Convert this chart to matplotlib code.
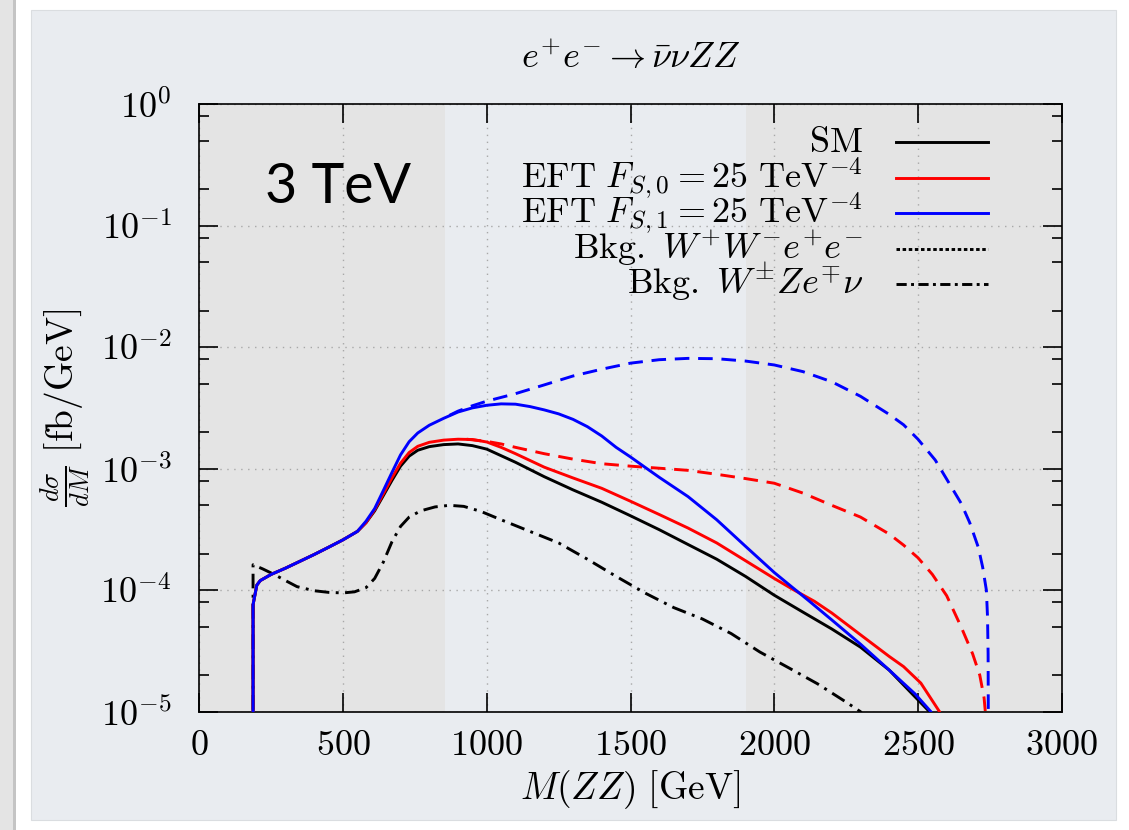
import numpy as np
import matplotlib
matplotlib.use("Agg")
import matplotlib.pyplot as plt
from matplotlib.lines import Line2D
from matplotlib.patches import Rectangle
from matplotlib.ticker import LogLocator, FixedLocator, FuncFormatter

plt.rcParams['mathtext.fontset'] = 'cm'
plt.rcParams['font.family'] = ['DejaVu Serif']

# M(ZZ) [GeV] / dsigma/dM [fb/GeV]
# common rising part below 600 GeV
low_x = [187, 187, 200, 212, 250, 300, 350, 400, 450, 500, 550]
low_y = [1e-6, 7.6e-5, 1.1e-4, 1.2e-4, 1.35e-4, 1.52e-4, 1.73e-4, 1.97e-4, 2.26e-4, 2.6e-4, 3.05e-4]

sm_x = low_x + [580, 610, 640, 670, 700, 730, 760, 800, 850, 900, 950, 1000, 1100, 1200, 1300,
                1400, 1500, 1600, 1700, 1800, 1900, 2000, 2100, 2200, 2300, 2400, 2480, 2540, 2555]
sm_y = low_y + [3.6e-4, 4.5e-4, 6.0e-4, 8.0e-4, 1.05e-3, 1.27e-3, 1.42e-3, 1.52e-3, 1.58e-3,
                1.6e-3, 1.55e-3, 1.45e-3, 1.13e-3, 8.6e-4, 6.7e-4, 5.3e-4, 4.1e-4, 3.15e-4,
                2.38e-4, 1.8e-4, 1.3e-4, 9.1e-5, 6.6e-5, 4.8e-5, 3.4e-5, 2.2e-5, 1.4e-5, 1e-5, 8e-6]

fs0_x = low_x + [580, 610, 640, 670, 700, 730, 760, 800, 850, 900, 950, 1000, 1050, 1100, 1200,
                 1300, 1400, 1500, 1600, 1700, 1800, 1900, 2000, 2070, 2140, 2200, 2300, 2400,
                 2450, 2510, 2575, 2590]
fs0_y = low_y + [3.6e-4, 4.6e-4, 6.2e-4, 8.4e-4, 1.11e-3, 1.36e-3, 1.53e-3, 1.65e-3, 1.72e-3,
                 1.75e-3, 1.74e-3, 1.66e-3, 1.5e-3, 1.33e-3, 1.03e-3, 8.4e-4, 6.9e-4, 5.4e-4,
                 4.2e-4, 3.25e-4, 2.45e-4, 1.75e-4, 1.25e-4, 1.0e-4, 8.1e-5, 6.5e-5, 4.3e-5,
                 2.85e-5, 2.35e-5, 1.72e-5, 1e-5, 8e-6]

fs1_x = low_x + [580, 610, 640, 670, 700, 730, 760, 800, 850, 900, 950, 1000, 1050, 1100, 1150,
                 1200, 1250, 1300, 1350, 1400, 1450, 1500, 1550, 1600, 1700, 1800, 1900, 2000,
                 2060, 2120, 2200, 2300, 2400, 2490, 2545, 2555]
fs1_y = low_y + [3.7e-4, 4.7e-4, 6.6e-4, 9.3e-4, 1.3e-3, 1.67e-3, 1.97e-3, 2.28e-3, 2.6e-3,
                 2.93e-3, 3.17e-3, 3.33e-3, 3.42e-3, 3.4e-3, 3.25e-3, 3.05e-3, 2.83e-3, 2.55e-3,
                 2.22e-3, 1.86e-3, 1.5e-3, 1.25e-3, 1.03e-3, 8.5e-4, 5.9e-4, 3.8e-4, 2.3e-4,
                 1.4e-4, 1.07e-4, 8.2e-5, 5.7e-5, 3.6e-5, 2.2e-5, 1.4e-5, 1e-5, 8e-6]

# EFT without unitarisation (dashed)
fs0_nu_x = [930, 1000, 1050, 1100, 1200, 1300, 1400, 1500, 1600, 1700, 1800, 1900, 2000, 2100,
            2200, 2300, 2400, 2450, 2500, 2550, 2600, 2650, 2690, 2715, 2730, 2738]
fs0_nu_y = [1.75e-3, 1.68e-3, 1.6e-3, 1.5e-3, 1.33e-3, 1.2e-3, 1.1e-3, 1.05e-3, 1.01e-3,
            9.7e-4, 9.0e-4, 8.3e-4, 7.6e-4, 6.3e-4, 5.0e-4, 4.0e-4, 2.9e-4, 2.35e-4, 1.85e-4,
            1.35e-4, 9.0e-5, 5.0e-5, 3.0e-5, 2.0e-5, 1.3e-5, 8e-6]

fs1_nu_x = [870, 900, 950, 1000, 1100, 1200, 1300, 1400, 1500, 1600, 1700, 1800, 1900, 2000,
            2100, 2200, 2300, 2400, 2450, 2500, 2560, 2600, 2650, 2680, 2710, 2725, 2738,
            2742, 2744, 2745]
fs1_nu_y = [2.75e-3, 2.98e-3, 3.3e-3, 3.6e-3, 4.15e-3, 4.9e-3, 5.8e-3, 6.6e-3, 7.4e-3, 7.9e-3,
            8.1e-3, 8.05e-3, 7.7e-3, 7.15e-3, 6.3e-3, 5.2e-3, 3.95e-3, 2.8e-3, 2.3e-3, 1.75e-3,
            1.18e-3, 8.2e-4, 5.2e-4, 3.6e-4, 2.25e-4, 1.55e-4, 1.0e-4, 6e-5, 3e-5, 5e-6]

wz_x = [187, 187, 220, 260, 300, 340, 400, 450, 500, 540, 580, 610, 640, 670, 700, 730, 770,
        820, 870, 920, 980, 1050, 1150, 1250, 1350, 1450, 1550, 1650, 1750, 1850, 1950, 2050,
        2150, 2250, 2300, 2315]
wz_y = [1e-6, 1.62e-4, 1.5e-4, 1.35e-4, 1.2e-4, 1.07e-4, 9.9e-5, 9.6e-5, 9.5e-5, 9.7e-5,
        1.05e-4, 1.25e-4, 1.7e-4, 2.5e-4, 3.35e-4, 4.0e-4, 4.5e-4, 4.85e-4, 5.0e-4, 4.9e-4,
        4.45e-4, 3.8e-4, 3.05e-4, 2.45e-4, 1.8e-4, 1.3e-4, 9.5e-5, 7.2e-5, 5.8e-5, 4.4e-5,
        3.1e-5, 2.3e-5, 1.7e-5, 1.2e-5, 1e-5, 9e-6]

labels = [r'$\mathrm{SM}$',
          r'$\mathrm{EFT}\ F_{S,0}=25\ \mathrm{TeV}^{-4}$',
          r'$\mathrm{EFT}\ F_{S,1}=25\ \mathrm{TeV}^{-4}$',
          r'$\mathrm{Bkg.}\ W^{+}W^{-}e^{+}e^{-}$',
          r'$\mathrm{Bkg.}\ W^{\pm}Ze^{\mp}\nu$']

x_ticks = [0, 500, 1000, 1500, 2000, 2500, 3000]

fig = plt.figure(figsize=(11.29, 8.30), dpi=100, facecolor='white')

# slide background
fig.add_artist(Rectangle((0, 0), 13 / 1129, 1, transform=fig.transFigure,
                         facecolor='#e4e4e4', edgecolor='none', zorder=-10))
fig.add_artist(Rectangle((13 / 1129, 0), 2.5 / 1129, 1, transform=fig.transFigure,
                         facecolor='#c4c4c4', edgecolor='none', zorder=-10))
fig.add_artist(Rectangle((31 / 1129, 10 / 830), (1116 - 31) / 1129, 810 / 830,
                         transform=fig.transFigure, facecolor='#e9ecf0',
                         edgecolor='#dadde0', lw=0.8, zorder=-10))

ax = fig.add_axes([199.3 / 1129, 1 - 711.7 / 830, (1061.7 - 199.3) / 1129, (711.7 - 104.3) / 830])
ax.set_facecolor('#e9ecf0')
ax.axvspan(0, 856, color='#e4e4e4', lw=0, zorder=0)
ax.axvspan(1901, 3000, color='#e4e4e4', lw=0, zorder=0)

lw = 2.1
ax.plot(fs1_nu_x, fs1_nu_y, color='blue', lw=lw, dashes=(5, 3), zorder=3)
ax.plot(fs0_nu_x, fs0_nu_y, color='red', lw=lw, dashes=(5, 3), zorder=3)
ax.plot(wz_x, wz_y, color='black', lw=lw, dashes=(5, 2.2, 1, 2.2), zorder=3)
ax.plot(sm_x, sm_y, color='black', lw=lw, zorder=4)
ax.plot(fs0_x, fs0_y, color='red', lw=lw, zorder=4)
ax.plot(fs1_x, fs1_y, color='blue', lw=lw, zorder=5)

ax.set_yscale('log')
ax.set_xlim(0, 3000)
ax.set_ylim(1e-5, 1)
ax.xaxis.set_major_locator(FixedLocator(x_ticks))
ax.xaxis.set_major_formatter(FuncFormatter(lambda v, p: r'$%d$' % v))
ax.yaxis.set_major_locator(LogLocator(base=10, numticks=10))
ax.yaxis.set_major_formatter(FuncFormatter(lambda v, p: r'$10^{%d}$' % round(np.log10(v))))
ax.yaxis.set_minor_locator(LogLocator(base=10, subs=[2, 5, 8], numticks=10))
ax.yaxis.set_minor_formatter(plt.NullFormatter())

ax.grid(True, which='major', color='#a8a8a8', ls=(0, (1, 4)), lw=1.0)
ax.tick_params(which='both', direction='in', top=True, right=True, width=1.2)
ax.tick_params(which='major', length=14, labelsize=26, pad=12)
ax.tick_params(axis='y', which='major', pad=20)
ax.tick_params(which='minor', length=7)
for s in ax.spines.values():
    s.set_linewidth(1.2)

ax.set_xlabel(r'$M(ZZ)\ [\mathrm{GeV}]$', fontsize=27, labelpad=4)
ax.set_ylabel(r'$\frac{d\sigma}{dM}\ [\mathrm{fb/GeV}]$', fontsize=27, labelpad=6)
ax.set_title(r'$e^{+}e^{-}\rightarrow\bar{\nu}\nu ZZ$', fontsize=26, pad=26)

ax.text(0.161, 0.863, '3 TeV', transform=ax.transAxes, fontsize=40,
        family='Lato', ha='center', va='center')

# gnuplot-style key: text right-aligned, sample line to the right, even rows
key_styles = [dict(color='black'),
              dict(color='red'),
              dict(color='blue'),
              dict(color='black', dashes=(1.2, 0.9)),
              dict(color='black', dashes=(3.5, 1.5, 1, 1.5))]
row_h = 35.5 / 607.4
for i, (lab, st) in enumerate(zip(labels, key_styles)):
    yb = 1 - (152 - 104.3) / 607.4 - i * row_h
    ax.text(0.7696, yb, lab, transform=ax.transAxes, fontsize=26,
            ha='right', va='baseline', zorder=6)
    ax.add_line(Line2D([0.8079, 0.9145], [yb + 10 / 607.4] * 2, transform=ax.transAxes,
                       lw=lw, zorder=6, **st))

fig.savefig('out.png', dpi=100, facecolor=fig.get_facecolor())
